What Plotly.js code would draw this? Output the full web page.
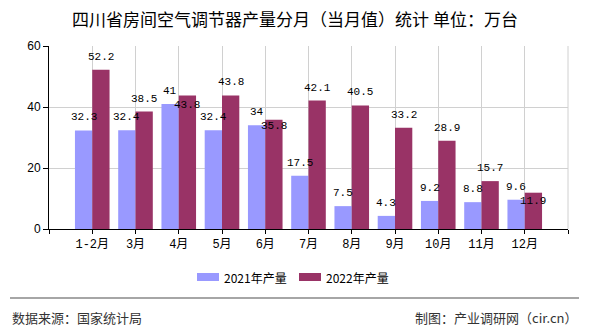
<!DOCTYPE html>
<html>
<head>
<meta charset="utf-8">
<script src="https://cdn.plot.ly/plotly-3.0.1.min.js"></script>
<style>html,body{margin:0;padding:0;background:#fff;}#chart{width:590px;height:330px;}</style>
</head>
<body>
<div id="chart"></div>
<script>
const categories = ["1-2月","3月","4月","5月","6月","7月","8月","9月","10月","11月","12月"];
const series2021 = [32.3, 32.4, 41, 32.4, 34, 17.5, 7.5, 4.3, 9.2, 8.8, 9.6];
const series2022 = [52.2, 38.5, 43.8, 43.8, 35.8, 42.1, 40.5, 33.2, 28.9, 15.7, 11.9];
const seriesNames = ["2021年产量", "2022年产量"];
const labels2021 = ["32.3","32.4","41","32.4","34","17.5","7.5","4.3","9.2","8.8","9.6"];
const labels2022 = ["52.2","38.5","43.8","43.8","35.8","42.1","40.5","33.2","28.9","15.7","11.9"];
const title = "四川省房间空气调节器产量分月（当月值）统计 单位：万台";
const sourceText = "数据来源：国家统计局";
const creditText = "制图：产业调研网（cir.cn）";

const W = 590, H = 330;
const L = 49, R = 568, T = 46, B = 229;
const px2x = p => (p - L) / (R - L);
const px2y = p => (B - p) / (B - T);

const colors = ["#9999FF", "#993366"];
const idx = categories.map((c, i) => i);
const bargap = 0.2;
const off = (1 - bargap) / 4;
const pxPerUnit = (B - T) / 60;
const labelFont = {family: "Liberation Mono, DejaVu Sans Mono, monospace", size: 11, color: "#000"};

const traces = [
  {type: "bar", x: idx, y: series2021, name: seriesNames[0], marker: {color: colors[0]}, hoverinfo: "none"},
  {type: "bar", x: idx, y: series2022, name: seriesNames[1], marker: {color: colors[1]}, hoverinfo: "none"}
];

const annotations = [];
idx.forEach(i => {
  const a = series2021[i], b = series2022[i];
  annotations.push({x: i - off, y: a, xref: "x", yref: "y", text: labels2021[i], showarrow: false,
    yanchor: "middle", yshift: 13, font: labelFont});
  const collide = Math.abs((b - a) * pxPerUnit) < 12;
  annotations.push({x: i + off, y: collide ? a : b, xref: "x", yref: "y", text: labels2022[i], showarrow: false,
    yanchor: "middle", yshift: collide ? -1 : 13, font: labelFont});
});

// legend (manual)
const legendY = 277;
const legendItems = [{x0: 197, x1: 219, tx: 222}, {x0: 299, x1: 321, tx: 324}];
const shapes = [];
legendItems.forEach((it, k) => {
  shapes.push({type: "rect", xref: "paper", yref: "paper", x0: px2x(it.x0), x1: px2x(it.x1),
    y0: px2y(legendY + 4), y1: px2y(legendY - 4), fillcolor: colors[k], line: {width: 0}});
  annotations.push({xref: "paper", yref: "paper", x: px2x(it.tx), y: px2y(legendY), xanchor: "left", yanchor: "middle",
    text: seriesNames[k], showarrow: false, font: {family: "Noto Sans CJK SC, sans-serif", size: 12, color: "#000"}});
});
// right border
shapes.push({type: "line", xref: "paper", yref: "paper", x0: 1, x1: 1, y0: 0, y1: 1, line: {color: "#d0d0d0", width: 1}});
// separator
shapes.push({type: "line", xref: "paper", yref: "paper", x0: px2x(10), x1: px2x(579), y0: px2y(298), y1: px2y(298),
  line: {color: "#888888", width: 1.5}});

annotations.push({xref: "paper", yref: "paper", x: px2x(10), y: px2y(317), xanchor: "left", yanchor: "middle",
  text: sourceText, showarrow: false, font: {family: "Noto Sans CJK SC, sans-serif", size: 13, color: "#333"}});
annotations.push({xref: "paper", yref: "paper", x: px2x(579), y: px2y(317), xanchor: "right", yanchor: "middle",
  text: creditText, showarrow: false, font: {family: "Noto Sans CJK SC, sans-serif", size: 13, color: "#333"}});

const layout = {
  width: W, height: H,
  margin: {l: L, r: W - R, t: T, b: H - B},
  paper_bgcolor: "#fff", plot_bgcolor: "#fff",
  showlegend: false,
  barmode: "group", bargap: bargap,
  title: {text: title, x: 0.5, xref: "container", xanchor: "center", y: 1 - 20 / H, yanchor: "middle",
    font: {family: "Noto Sans CJK SC, sans-serif", size: 17, color: "#000"}},
  xaxis: {
    range: [-1, 11], tickmode: "array",
    tickvals: [-1].concat(idx, [11]),
    ticktext: [""].concat(categories, [""]),
    showgrid: true, gridcolor: "#d0d0d0", gridwidth: 1,
    showline: true, linecolor: "#000", linewidth: 1,
    ticks: "outside", ticklen: 4, tickcolor: "#000",
    tickfont: {family: "Liberation Mono, Noto Sans CJK SC, monospace", size: 12, color: "#000"},
    zeroline: false, fixedrange: true
  },
  yaxis: {
    range: [0, 60], dtick: 20, tick0: 0,
    showgrid: true, gridcolor: "#d0d0d0", gridwidth: 1,
    showline: true, linecolor: "#000", linewidth: 1,
    ticks: "outside", ticklen: 5, tickcolor: "#000",
    tickfont: {family: "Liberation Sans, Arial, sans-serif", size: 12, color: "#000"},
    zeroline: false, fixedrange: true
  },
  shapes: shapes,
  annotations: annotations
};

Plotly.newPlot("chart", traces, layout, {displayModeBar: false, staticPlot: true});
</script>
</body>
</html>
